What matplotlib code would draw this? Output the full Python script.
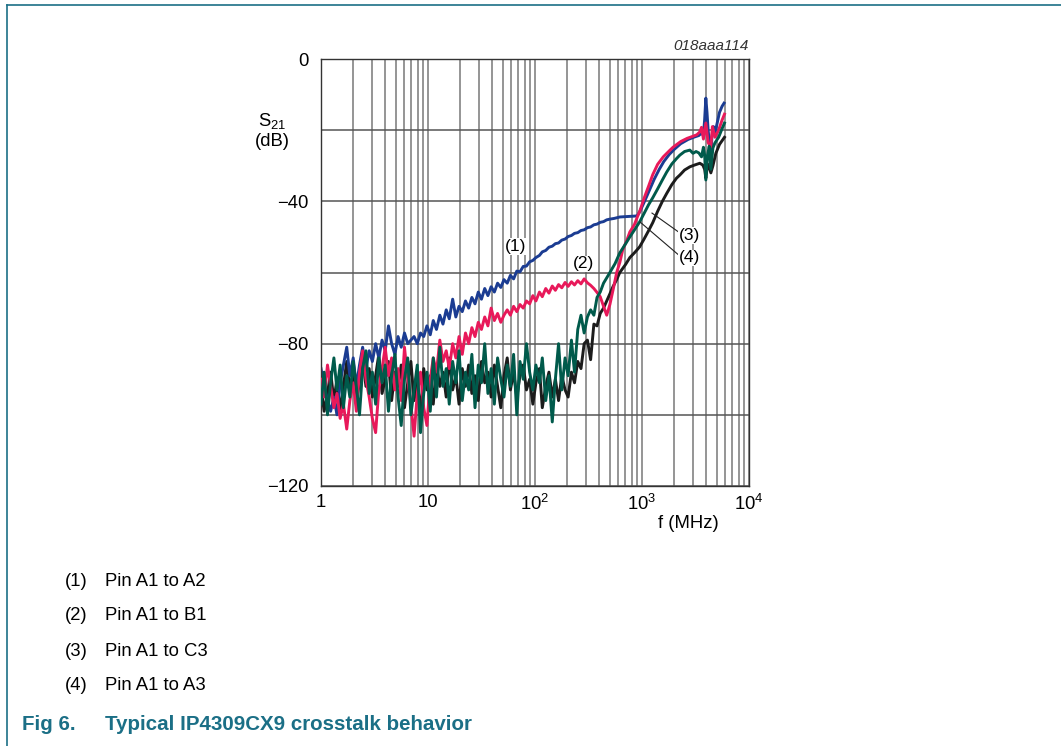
import numpy as np
import matplotlib
matplotlib.use("Agg")
import matplotlib.pyplot as plt
from matplotlib.ticker import LogLocator, MultipleLocator, NullFormatter, FixedLocator
from matplotlib.lines import Line2D

plt.rcParams['font.family'] = ['Liberation Sans', 'DejaVu Sans']
plt.rcParams['mathtext.fontset'] = 'custom'
plt.rcParams['mathtext.rm'] = 'Liberation Sans'
plt.rcParams['mathtext.it'] = 'Liberation Sans:italic'

# frequency grid of the noisy low part (MHz), shared by all four traces
f_low = [1.00, 1.07, 1.15, 1.23, 1.32, 1.41, 1.51, 1.62, 1.74, 1.86,
         2.00, 2.14, 2.29, 2.45, 2.63, 2.82, 3.02, 3.24, 3.47, 3.72,
         3.98, 4.27, 4.57, 4.90, 5.25, 5.62, 6.03, 6.46, 6.92, 7.41,
         7.94, 8.51, 9.12, 9.77, 10.5, 11.2, 12.0, 12.9, 13.8, 14.8,
         15.8, 17.0, 18.2, 19.5, 20.9, 22.4, 24.0, 25.7, 27.5, 29.5,
         31.6, 33.9, 36.3, 38.9, 41.7, 44.7, 47.9, 51.3, 55.0, 58.9,
         63.1, 67.6, 72.4, 77.6, 83.2, 89.1, 95.5, 102, 110, 117,
         126, 135, 145, 155, 166, 178, 191, 204, 219, 234,
         251, 269, 288, 309, 331, 355, 380, 407, 437, 468, 501]

# (1) Pin A1 to A2
blue_low = [-87, -92, -96, -99, -95, -100, -91, -86, -81, -89,
            -84, -92, -86, -81, -87, -82, -85, -80, -84, -79,
            -82, -75, -80, -83, -78, -81, -77, -80, -79, -78,
            -80, -77, -78, -75, -77.5, -73.5, -76, -72, -74.5, -70.5,
            -73, -67.5, -72.5, -69.5, -71, -68, -70, -67, -68.8, -65.5,
            -67.5, -64.5, -66.5, -64, -65.5, -63, -64.2, -62, -63, -60.8,
            -61.8, -59.6, -59.8, -58.3, -58.2, -57, -56.6, -55.8, -55.2, -54.2,
            -53.8, -52.9, -52.6, -51.9, -51.7, -50.9, -50.6, -49.9, -49.6, -49,
            -48.8, -48.2, -48, -47.4, -47.2, -46.6, -46.4, -45.9, -45.7, -45.2, -45]
f_blue_hi = [550, 620, 700, 800, 900, 950, 1020, 1100, 1200, 1300, 1450, 1600,
             1800, 2000, 2300, 2700, 3100, 3400, 3600, 3750, 3850, 3950, 4050,
             4150, 4300, 4400, 4500, 4650, 4800, 5000, 5300, 5600, 5850]
blue_hi = [-44.8, -44.4, -44.3, -44.2, -44.1, -43.0, -41, -38.8, -36.2, -33.8, -31.0, -28.8,
           -26.8, -25.4, -23.8, -22.6, -21.9, -21.5, -20.8, -21.5, -17, -11, -15,
           -20, -24.5, -27, -22, -19, -21, -18.5, -15, -13.3, -12.4]

# (2) Pin A1 to B1
red_low = [-90, -95, -86, -92, -98, -94, -101, -97, -104, -96,
           -91, -99, -88, -82, -90, -95, -101, -105, -93, -87,
           -81, -89, -84, -93, -87, -96, -81, -90, -97, -106,
           -94, -88, -98, -103, -90, -84, -88, -79, -85, -82,
           -87, -80, -84, -78, -83, -77, -80, -75.5, -78, -74,
           -76, -72.5, -75, -70, -73.5, -71.5, -74, -72, -70.5, -72,
           -69.5, -71, -69, -70, -68, -68.8, -66.5, -68, -65.5, -66.8,
           -64.5, -65.8, -63.8, -65, -63.4, -64.3, -62.8, -63.9, -62.6, -63.5,
           -62.3, -63.2, -61.8, -62.9, -63.6, -64.5, -65.6, -66.8, -69.5, -72, -69]
f_red_hi = [540, 580, 620, 660, 720, 770, 850, 910, 960, 1050, 1150, 1260, 1400,
            1580, 1800, 1950, 2300, 2640, 3000, 3250, 3470, 3600, 3750, 3950,
            4150, 4400, 4550, 4800, 5200, 5600, 5900]
red_hi = [-64.5, -60, -57.2, -53.7, -51, -48.6, -46.5, -44.2, -42.5, -39, -35.8, -32.5, -29.6,
          -27.5, -25.8, -24.8, -23.2, -22.3, -21.7, -21.3, -20.5, -19.2, -22.5, -18,
          -23.5, -24.7, -19, -22, -20, -17.2, -15.5]

# (3) Pin A1 to C3
green_low = [-97, -88, -100, -91, -84, -93, -86, -98, -89, -95,
             -85, -92, -100, -87, -82, -94, -88, -97, -84, -91,
             -86, -99, -89, -83, -95, -103, -90, -84, -100, -93,
             -86, -105, -94, -88, -99, -84, -95, -81, -92, -87,
             -97, -85, -91, -82, -96, -88, -93, -83, -98, -86,
             -91, -80, -94, -87, -97, -84, -90, -95, -86, -92,
             -83, -100, -85, -90, -80, -88, -93, -86, -91, -84,
             -96, -89, -102, -90, -80, -93, -84, -89, -79, -88,
             -76, -72, -77, -72.5, -70.5, -72, -67, -65.5, -63, -61.5, -60]
f_green_hi = [560, 620, 700, 770, 860, 950, 1050, 1150, 1260, 1400, 1550, 1700,
              1900, 2100, 2260, 2500, 2800, 3000, 3200, 3400, 3600, 3750, 3850,
              3950, 4100, 4250, 4400, 4600, 4800, 5200, 5600, 5900]
green_hi = [-57.5, -54.5, -52, -50, -47.8, -45.8, -43.3, -41, -39, -36.5, -34, -31.8,
            -29.5, -28, -27, -26, -25.6, -26.5, -26, -26.4, -27.5, -24.8, -27,
            -34, -27, -24.5, -31, -25, -23.6, -22, -19.6, -18]

# (4) Pin A1 to A3
black_low = [-92, -99, -94, -88, -96, -90, -99, -92, -85, -93,
             -88, -96, -91, -84, -92, -87, -95, -89, -83, -94,
             -90, -85, -96, -88, -92, -86, -98, -91, -85, -96,
             -90, -100, -87, -93, -89, -97, -86, -92, -88, -95,
             -84, -93, -89, -97, -87, -92, -86, -94, -89, -96,
             -85, -91, -88, -95, -86, -92, -98, -89, -84, -93,
             -88, -95, -89, -86, -93, -90, -97, -91, -87, -98,
             -92, -88, -95, -90, -96, -89, -93, -95, -88, -91,
             -85, -87, -80, -79, -84.5, -74.5, -75, -71.5, -70, -68, -66]
f_black_hi = [535, 580, 620, 700, 770, 860, 950, 1050, 1150, 1260, 1400, 1550,
              1700, 1900, 2100, 2260, 2500, 2800, 3100, 3470, 3700, 3850, 3950,
              4100, 4250, 4400, 4600, 4900, 5300, 5900]
black_hi = [-64, -62, -60, -57.8, -55.8, -54.3, -52.8, -50.5, -48.3, -46, -42.8, -40,
            -37.8, -35.3, -33.5, -32.6, -31.2, -30.3, -29.8, -29.3, -29.8, -31, -33.5,
            -29.5, -30.5, -32, -30, -26.5, -24, -22]

legend_items = ["(1)", "(2)", "(3)", "(4)"]
legend_texts = ["Pin A1 to A2", "Pin A1 to B1", "Pin A1 to C3", "Pin A1 to A3"]

W, H = 1061, 746
fig = plt.figure(figsize=(W / 100, H / 100), dpi=100)
ax = fig.add_axes([321 / W, 1 - 486 / H, 428 / W, 427 / H])


def px(x, y):
    return x / W, 1 - y / H


traces = [
    (f_low + f_blue_hi, blue_low + blue_hi, "#1b3c92", 2),
    (f_low + f_red_hi, red_low + red_hi, "#e8195a", 3),
    (f_low + f_black_hi, black_low + black_hi, "#1c1c1c", 1),
    (f_low + f_green_hi, green_low + green_hi, "#005a4b", 4),
]
for f, s, c, z in traces:
    ax.plot(f, s, color=c, lw=2.1, zorder=z)

ax.set_xscale("log")
ax.set_xlim(1, 1e4)
ax.set_ylim(-120, 0)
ax.xaxis.set_major_locator(FixedLocator([1, 10, 100, 1000, 10000]))
ax.xaxis.set_minor_locator(LogLocator(base=10, subs=range(2, 10)))
ax.xaxis.set_minor_formatter(NullFormatter())
ax.set_xticklabels(["1", "10", r"$\mathregular{10^2}$", r"$\mathregular{10^3}$",
                    r"$\mathregular{10^4}$"])
ax.set_yticks([0, -20, -40, -60, -80, -100, -120])
ax.set_yticklabels(["0", "", "\u221240", "", "\u221280", "", "\u2212120"])
ax.tick_params(which="both", length=0, labelsize=13.3)
ax.tick_params(axis="y", pad=9)
ax.tick_params(axis="x", pad=6)
ax.grid(which="both", axis="x", color="#787878", lw=1.1)
ax.grid(which="major", axis="y", color="#555555", lw=1.1)
ax.set_axisbelow(True)
for sp in ax.spines.values():
    sp.set_color("#333333")
    sp.set_linewidth(1.0)

# curve labels
lab = dict(fontsize=12.5, ha="center", va="center", zorder=6,
           bbox=dict(boxstyle="square,pad=0.05", fc="white", ec="none"))
ax.text(66, -52.6, "(1)", **lab)
ax.text(281, -57.6, "(2)", **lab)
ax.text(2750, -49.7, "(3)", **lab)
ax.text(2750, -55.9, "(4)", **lab)
ax.plot([1240, 2265], [-43.3, -48.9], color="#222222", lw=0.8, zorder=5)
ax.plot([958, 2265], [-45.8, -55.4], color="#222222", lw=0.8, zorder=5)

fig.text(*px(272, 121), r"S$\mathregular{_{21}}$", fontsize=13.3, ha="center", va="center")
fig.text(*px(272, 142), "(dB)", fontsize=13.3, ha="center", va="center")
fig.text(*px(688, 523), "f (MHz)", fontsize=13.3, ha="center", va="center")
fig.text(*px(749, 46), "018aaa114", fontsize=11, style="italic", ha="right",
         va="center", color="#333333")

for i, (a, b) in enumerate(zip(legend_items, legend_texts)):
    y = 581 + 35 * i
    fig.text(*px(65, y), a, fontsize=13.3, ha="left", va="center")
    fig.text(*px(105, y), b, fontsize=13.3, ha="left", va="center")

teal = "#1b6f86"
fig.text(*px(22, 724), "Fig 6.", fontsize=14.8, weight="bold", color=teal,
         ha="left", va="center")
fig.text(*px(105, 724), "Typical IP4309CX9 crosstalk behavior", fontsize=14.8,
         weight="bold", color=teal, ha="left", va="center")

# page frame
fig.add_artist(Line2D([7 / W, 1], [1 - 5 / H, 1 - 5 / H], color=teal, lw=1.2))
fig.add_artist(Line2D([7 / W, 7 / W], [0, 1 - 5 / H], color=teal, lw=1.2))

fig.savefig("out.png", dpi=100)
